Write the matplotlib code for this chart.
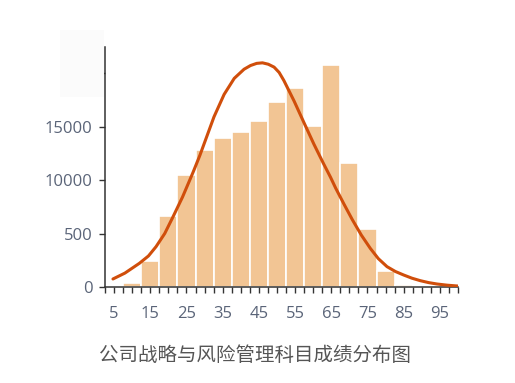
import matplotlib
matplotlib.use("Agg")
import matplotlib.pyplot as plt
from matplotlib.ticker import MultipleLocator
from matplotlib.patches import Rectangle

# Histogram bins (centre of each 5-point score bin) and counts
bin_centers = [10, 15, 20, 25, 30, 35, 40, 45, 50, 55, 60, 65, 70, 75, 80, 85]
counts = [340, 2470, 6630, 10480, 12780, 13900, 14450, 15510,
          17320, 18570, 15040, 20780, 11600, 5400, 1500, 150]

# Fitted curve
curve_x = [4.7, 8, 12, 14.5, 16.6, 19, 21.2, 23.9, 26.8, 28.7, 30, 32.6, 35.4,
           38.2, 40.9, 42.7, 44.4, 46, 47.6, 49.2, 50.6, 51.9, 54.7, 57.4,
           60.2, 62.9, 64.8, 66.2, 68.5, 70.8, 73.3, 75.8, 78, 80.4, 82.7, 85,
           87.3, 89.6, 91.9, 94.2, 97, 100]
curve_y = [750, 1300, 2215, 2900, 3770, 5000, 6500, 8400, 10700, 12300, 13500,
           15900, 18000, 19500, 20350, 20700, 20900, 20950, 20820, 20550,
           20050, 19300, 17400, 15400, 13350, 11500, 10250, 9250, 7750, 6300,
           4850, 3600, 2650, 1900, 1450, 1120, 820, 590, 410, 280, 170, 90]

x_ticks = [5, 15, 25, 35, 45, 55, 65, 75, 85, 95]
y_ticks = [0, 5000, 10000, 15000, 20000]
y_labels = ["0", "500", "10000", "15000", ""]
title = "公司战略与风险管理科目成绩分布图"

BAR_COLOR = "#F2C594"
LINE_COLOR = "#D04E0B"
LABEL_COLOR = "#5A6478"

fig = plt.figure(figsize=(5.15, 3.83), dpi=100)

# faint box in the top-left corner
fig.patches.append(Rectangle((60 / 515, 1 - 97 / 383), 44 / 515, 67 / 383,
                             transform=fig.transFigure, facecolor="#fbfbfb",
                             edgecolor="none", zorder=0))

ax = fig.add_axes([105 / 515, 1 - 287 / 383, 353 / 515, 240 / 383])
ax.patch.set_alpha(0)

ax.bar(bin_centers, counts, width=5, color=BAR_COLOR, edgecolor="white",
       linewidth=1.2, zorder=2)
ax.plot(curve_x, curve_y, color=LINE_COLOR, linewidth=2.2, zorder=3,
        solid_capstyle="round", solid_joinstyle="round")

ax.set_xlim(2.5, 100)
ax.set_ylim(0, 22430)

ax.set_xticks(x_ticks)
ax.xaxis.set_minor_locator(MultipleLocator(2.5))
ax.set_yticks(y_ticks)
ax.set_yticklabels(y_labels)

for s in ["top", "right"]:
    ax.spines[s].set_visible(False)
for s in ["left", "bottom"]:
    ax.spines[s].set_color("#333333")
    ax.spines[s].set_linewidth(1.1)

ax.tick_params(axis="both", which="both", direction="out", length=4,
               width=1.0, color="#333333", labelcolor=LABEL_COLOR,
               labelsize=12)
ax.tick_params(axis="x", pad=10)
ax.tick_params(axis="y", pad=5)
for lab in ax.get_xticklabels() + ax.get_yticklabels():
    lab.set_fontfamily("Open Sans")

fig.text(255 / 515, 1 - 355 / 383, title, ha="center", va="center",
         fontsize=14, color="#555555",
         family=["Noto Sans CJK SC", "DejaVu Sans"])

fig.savefig("out.png", dpi=100)
